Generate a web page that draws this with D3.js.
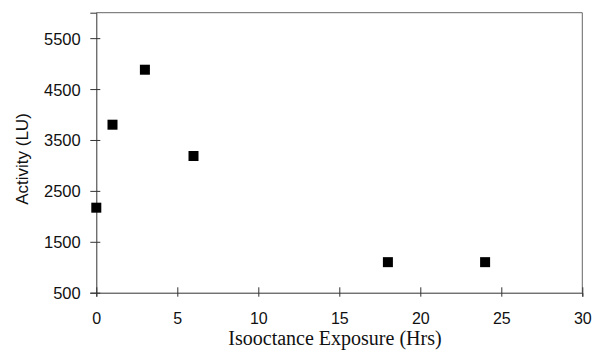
<!DOCTYPE html>
<html lang="en">
<head>
    <meta charset="UTF-8">
    <title>Activity vs Isooctance Exposure</title>
    <style>
        body { margin: 0; background: #fff; }
    </style>
</head>
<body>
    <div id="root"></div>

    <script src="https://d3js.org/d3.v7.min.js"></script>

    <script>
    // data
    const hours = [0, 1, 3, 6, 18, 24]
    const activity = [2170, 3800, 4880, 3185, 1100, 1100]

    const xTicks = [0, 5, 10, 15, 20, 25, 30]
    const yTicks = [500, 1500, 2500, 3500, 4500, 5500]

    const W = 594, H = 356
    const margin = {top: 12.7, bottom: 63.3, left: 96.3, right: 11.7}
    const width = W - margin.left - margin.right
    const height = H - margin.top - margin.bottom

    const svg = d3.select('#root').append('svg')
      .attr('width', W)
      .attr('height', H)

    const mainG = svg.append('g')
      .attr('transform', `translate(${margin.left}, ${margin.top})`)

    const xScale = d3.scaleLinear().domain([0, 30]).range([0, width])
    const yScale = d3.scaleLinear().domain([500, 6000]).range([height, 0])

    // frame (top + right are lighter in the scan)
    mainG.append('path')
      .attr('d', `M0,0H${width}V${height}`)
      .attr('fill', 'none')
      .attr('stroke', '#666')
      .attr('stroke-width', 1)

    // x axis, ticks cross the line
    const xAxis = mainG.append('g')
      .attr('transform', `translate(0, ${height})`)
      .call(d3.axisBottom(xScale).tickValues(xTicks).tickFormat(d3.format('d'))
        .tickSizeOuter(0).tickSize(4))
    xAxis.selectAll('.tick line').attr('y1', -5.4)
    xAxis.selectAll('.tick text')
      .attr('y', 31).attr('dy', 0)
      .style('font-family', '"Liberation Sans", Arial, sans-serif')
      .style('font-size', '16px')
      .attr('fill', '#111')

    // y axis
    const yAxis = mainG.append('g')
      .call(d3.axisLeft(yScale).tickValues(yTicks).tickFormat(d3.format('d'))
        .tickSizeOuter(0).tickSize(6))
    yAxis.selectAll('.tick line').attr('x1', 4)
    yAxis.selectAll('.tick text')
      .attr('x', -15.6).attr('dy', '0.36em')
      .style('font-family', '"Liberation Sans", Arial, sans-serif')
      .style('font-size', '16.5px')
      .attr('fill', '#111')

    mainG.selectAll('.domain, .tick line').attr('stroke', '#333')

    // markers
    mainG.selectAll('rect.pt')
      .data(hours.map((h, i) => ({h, v: activity[i]})))
      .join('rect')
      .attr('class', 'pt')
      .attr('x', d => xScale(d.h) - 5)
      .attr('y', d => yScale(d.v) - 5)
      .attr('width', 10)
      .attr('height', 10)
      .attr('fill', '#000')

    // axis titles
    svg.append('text')
      .attr('x', 335)
      .attr('y', 345)
      .attr('text-anchor', 'middle')
      .style('font-family', '"Liberation Serif", "Times New Roman", serif')
      .style('font-size', '20px')
      .attr('fill', '#111')
      .text('Isooctance Exposure (Hrs)')

    svg.append('text')
      .attr('transform', 'translate(28, 159) rotate(-90)')
      .attr('text-anchor', 'middle')
      .style('font-family', '"Liberation Sans", Arial, sans-serif')
      .style('font-size', '17px')
      .attr('fill', '#111')
      .text('Activity (LU)')
    </script>
</body>
</html>
